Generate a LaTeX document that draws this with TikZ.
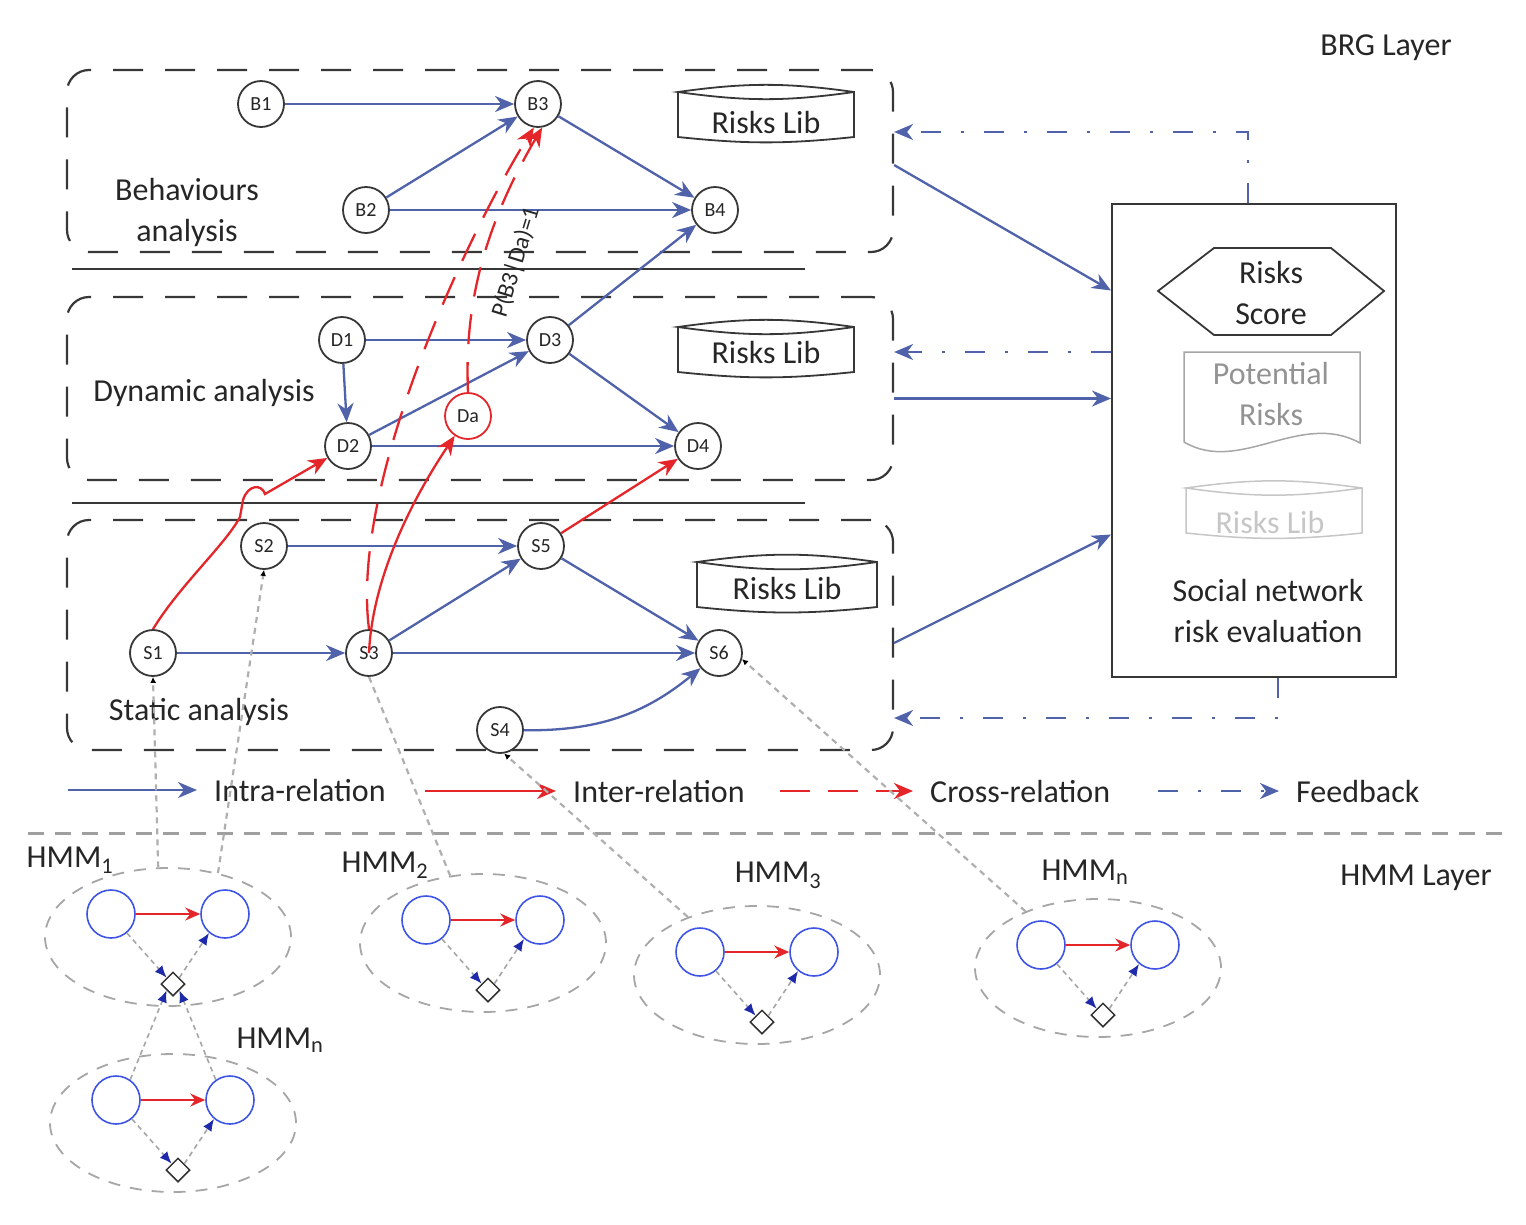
\documentclass[tikz,border=0pt]{standalone}
\usepackage{fontspec}
\setmainfont{Carlito}
\usetikzlibrary{arrows.meta,shapes.geometric}
\definecolor{intrablue}{RGB}{79,98,170}
\definecolor{interred}{RGB}{228,38,42}
\definecolor{hmmblue}{RGB}{62,84,230}
\definecolor{emitblue}{RGB}{30,42,170}
\definecolor{linkgray}{RGB}{175,175,175}
\definecolor{boxgray}{RGB}{55,55,55}

\begin{document}
\begin{tikzpicture}[x=1pt,y=-1pt]
        \tikzstyle{every node}=[font=\fontsize{32}{41}\selectfont, text=black!85, align=center]
        \tikzstyle{brg}=[circle, draw=boxgray, fill=white, line width=1.8pt, minimum size=46pt, inner sep=0pt, font=\fontsize{20}{24}\selectfont]
        \tikzstyle{layerbox}=[draw=boxgray, line width=2.2pt, dash pattern=on 30pt off 22pt, rounded corners=22pt, minimum width=826pt, inner sep=0pt]
        \tikzstyle{intra}=[draw=intrablue, line width=2.3pt, -{Stealth[length=19pt,width=16pt,inset=6pt]}]
        \tikzstyle{inter}=[draw=interred, line width=2.3pt, -{Stealth[length=19pt,width=16pt,inset=6pt]}]
        \tikzstyle{cross}=[inter, dash pattern=on 30pt off 18pt]
        \tikzstyle{feedback}=[draw=intrablue, line width=2.2pt, dash pattern=on 20pt off 20pt on 3pt off 20pt, -{Stealth[length=19pt,width=16pt,inset=6pt]}]
        \tikzstyle{libline}=[draw=boxgray, line width=1.8pt]
        \tikzstyle{hmmellipse}=[ellipse, draw=gray!70, line width=1.8pt, dash pattern=on 12pt off 10pt, minimum width=246pt, minimum height=138pt, inner sep=0pt]
        \tikzstyle{hmmstate}=[circle, draw=hmmblue, line width=1.6pt, minimum size=48pt, inner sep=0pt]
        \tikzstyle{obsnode}=[diamond, draw=black!80, line width=1.5pt, minimum width=24pt, minimum height=24pt, inner sep=0pt]
        \tikzstyle{hmmtrans}=[draw=interred, line width=1.8pt, -{Stealth[length=15pt,width=13pt,inset=5pt]}]
        \tikzstyle{hmmemit}=[draw=gray!70, line width=1.6pt, dash pattern=on 5pt off 4pt, -{Latex[length=12pt,width=10pt,color=emitblue]}]
        \tikzstyle{maplink}=[draw=linkgray, line width=2.2pt, dash pattern=on 6pt off 5pt, -{Latex[length=6pt,width=6pt,color=black]}]
        \useasboundingbox (0,0) rectangle (1526,1224);

        % BRG layer boxes
        \node[layerbox, minimum height=182pt] (behbox) at (480,161) {};
        \node[layerbox, minimum height=183pt] (dynbox) at (480,388.5) {};
        \node[layerbox, minimum height=230pt] (statbox) at (480,635) {};
        \coordinate (sepa) at (72,269);
        \coordinate (sepb) at (805,269);
        \coordinate (sepc) at (72,503);
        \coordinate (sepd) at (805,503);
        \draw[draw=boxgray, line width=2pt] (sepa) -- (sepb);
        \draw[draw=boxgray, line width=2pt] (sepc) -- (sepd);

        \node (behlabel) at (187,212) {Behaviours\\analysis};
        \node (dynlabel) at (204,393) {Dynamic analysis};
        \node (statlabel) at (199,712) {Static analysis};
        \node (brglayer) at (1386,48) {BRG Layer};
        \node (hmmlayer) at (1416,878) {HMM Layer};

        % risks libraries
        \draw[libline] (678,92) -- (678,137) to[bend right=6] (854,137) -- (854,92) to[bend right=8] (678,92) to[bend right=8] (854,92);
        \node (libb) at (766,123) {Risks Lib};
        \draw[libline] (678,327) -- (678,372) to[bend right=6] (854,372) -- (854,327) to[bend right=8] (678,327) to[bend right=8] (854,327);
        \node (libd) at (766,353) {Risks Lib};
        \draw[libline] (697,562) -- (697,607) to[bend right=6] (877,607) -- (877,562) to[bend right=8] (697,562) to[bend right=8] (877,562);
        \node (libs) at (787,588) {Risks Lib};

        % behaviour nodes
        \node[brg] (B1) at (261,104) {B1};
        \node[brg] (B3) at (538,104) {B3};
        \node[brg] (B2) at (366,210) {B2};
        \node[brg] (B4) at (715,210) {B4};
        % dynamic nodes
        \node[brg] (D1) at (342,340) {D1};
        \node[brg] (D3) at (550,340) {D3};
        \node[brg] (D2) at (348,446) {D2};
        \node[brg, draw=interred] (Da) at (468,416) {Da};
        \node[brg] (D4) at (698,446) {D4};
        % static nodes
        \node[brg] (S2) at (264,546) {S2};
        \node[brg] (S5) at (541,546) {S5};
        \node[brg] (S1) at (153,653) {S1};
        \node[brg] (S3) at (369,653) {S3};
        \node[brg] (S6) at (719,653) {S6};
        \node[brg] (S4) at (500,730) {S4};

        % intra-relations
        \draw[intra] (B1) -- (B3);
        \draw[intra] (B2) -- (B3);
        \draw[intra] (B2) -- (B4);
        \draw[intra] (B3) -- (B4);
        \draw[intra] (D3) -- (B4);
        \draw[intra] (D1) -- (D3);
        \draw[intra] (D1) -- (D2);
        \draw[intra] (D2) -- (D3);
        \draw[intra] (D2) -- (D4);
        \draw[intra] (D3) -- (D4);
        \draw[intra] (S2) -- (S5);
        \draw[intra] (S1) -- (S3);
        \draw[intra] (S3) -- (S5);
        \draw[intra] (S3) -- (S6);
        \draw[intra] (S5) -- (S6);
        \draw[intra] (S4) to[bend right=20] (S6);

        % inter-relations
        \draw[inter] (S1.north) .. controls (180,585) and (225,545) .. (240,517) -- (243,500) .. controls (248,484) and (262,484) .. (265,494) -- (D2);
        \draw[inter] (S3.center) .. controls (372,585) and (405,510) .. (Da);
        \draw[inter] (S5) -- (D4);

        % cross-relations
        \draw[cross] (S3.north) .. controls (350,480) and (470,230) .. (B3.-100);
        \draw[cross] (Da.north) .. controls (465,320) and (476,240) .. (B3.-80);
        \node[rotate=73, font=\fontsize{24}{28}\selectfont] (pblabel) at (516,262) {P(B3|Da)=1};

        % risk evaluation
        \node[draw=boxgray, line width=2pt, minimum width=284pt, minimum height=473pt] (evalbox) at (1254,440.5) {};
        \draw[draw=boxgray, line width=1.8pt] (1158,291) -- (1214,248) -- (1331,248) -- (1384,291) -- (1331,335) -- (1214,335) -- cycle;
        \node (score) at (1271,293) {Risks\\Score};
        \draw[draw=gray!70, line width=1.5pt] (1184,352) -- (1184,442) .. controls (1240,475) and (1300,410) .. (1360,443) -- (1360,352) -- cycle;
        \node[text=gray!85] (potrisk) at (1271,394) {Potential\\Risks};
        \draw[draw=gray!45, line width=1.5pt] (1186,488) -- (1186,533) to[bend right=6] (1362,533) -- (1362,488) to[bend right=8] (1186,488) to[bend right=8] (1362,488);
        \node[text=gray!45] (libe) at (1270,522) {Risks Lib};
        \node (evallabel) at (1268,611) {Social network\\risk evaluation};

        \draw[intra] ([yshift=-4pt]behbox.east) -- ([yshift=150pt]evalbox.west);
        \draw[intra] ([yshift=-10pt]dynbox.east) -- ([yshift=42pt]evalbox.west);
        \draw[intra] ([yshift=-8pt]statbox.east) -- ([yshift=-94pt]evalbox.west);

        % feedback
        \draw[feedback] ([xshift=-6pt]evalbox.north) |- ([yshift=29pt]behbox.east);
        \draw[feedback] ([yshift=88.5pt]evalbox.west) -- ([yshift=36.5pt]dynbox.east);
        \draw[feedback] ([xshift=24pt]evalbox.south) |- ([yshift=-83pt]statbox.east);

        % legend
        \coordinate (lga) at (68,790);
        \coordinate (lgb) at (425,791);
        \coordinate (lgc) at (780,791);
        \coordinate (lgd) at (1158,791);
        \node[anchor=west, inner sep=2pt] (lgintra) at (212,790) {Intra-relation};
        \node[anchor=west, inner sep=2pt] (lginter) at (571,791) {Inter-relation};
        \node[anchor=west, inner sep=2pt] (lgcross) at (928,791) {Cross-relation};
        \node[anchor=west, inner sep=2pt] (lgfeed) at (1294,791) {Feedback};
        \draw[intra, shorten >=15pt] (lga) -- (lgintra.west);
        \draw[inter, shorten >=15pt] (lgb) -- (lginter.west);
        \draw[cross, shorten >=15pt] (lgc) -- (lgcross.west);
        \draw[feedback, shorten >=15pt] (lgd) -- (lgfeed.west);

        % HMM layer
        \coordinate (layera) at (28,833);
        \coordinate (layerb) at (1505,833);
        \draw[draw=gray!75, line width=3pt, dash pattern=on 16pt off 11pt] (layera) -- (layerb);

        \foreach \g/\cx/\cy/\lx/\ly/\sub in {1/168/937/70/860/1, 2/483/943/385/865/2, 3/757/975/778/875/3, 4/1098/968/1085/872/n, 5/173/1123/280/1040/n}{
            \node[hmmellipse] (e\g) at (\cx,\cy) {};
            \node[hmmstate] (l\g) at (\cx-57,\cy-23) {};
            \node[hmmstate] (r\g) at (\cx+57,\cy-23) {};
            \node[obsnode] (o\g) at (\cx+5,\cy+47) {};
            \node (t\g) at (\lx,\ly) {HMM\textsubscript{\sub}};
            \draw[hmmtrans] (l\g) -- (r\g);
            \draw[hmmemit] (l\g.-50) -- (o\g.north west);
            \draw[hmmemit] (o\g.north east) -- (r\g.-130);
        }
        \draw[hmmemit] (l5.55) -- (o1.south west);
        \draw[hmmemit] (r5.125) -- (o1.south east);

        % links to the BRG nodes
        \draw[maplink] (e1.98) -- (S1.south);
        \draw[maplink] (e1.52) -- (S2.south);
        \draw[maplink, -] (S3.south) -- (e2.116);
        \draw[maplink] (e3.140) -- (S4.-80);
        \draw[maplink] (e4.142) -- (S6.-15);
    \end{tikzpicture}
\end{document}
